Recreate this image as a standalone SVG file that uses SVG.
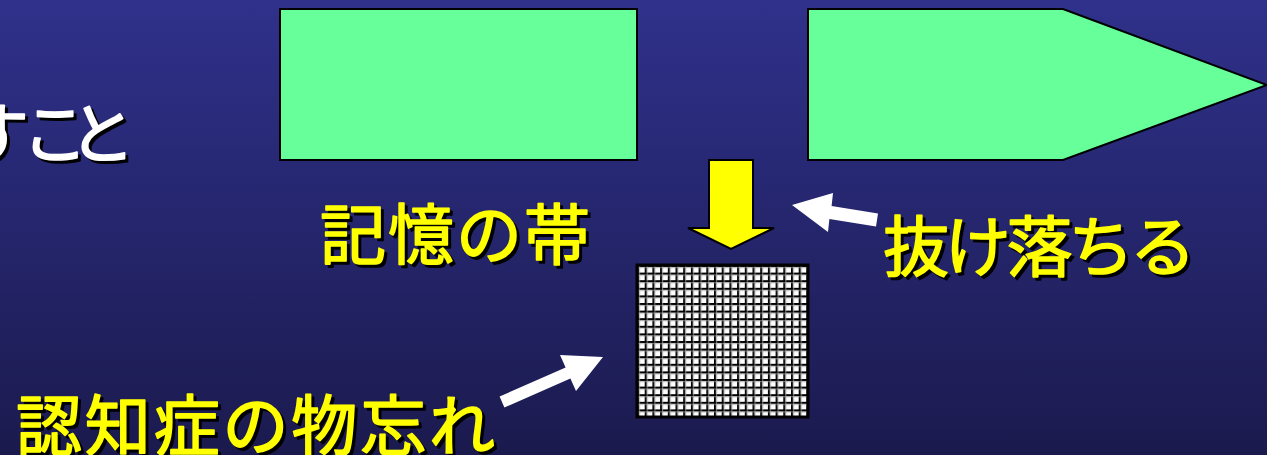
<svg xmlns="http://www.w3.org/2000/svg" width="1267" height="455" viewBox="0 0 1267 455">
<defs>
<linearGradient id="bg" x1="0" y1="0" x2="0" y2="1">
<stop offset="0" stop-color="#2f318b"/>
<stop offset="1" stop-color="#1b1a4e"/>
</linearGradient>
<pattern id="grid" patternUnits="userSpaceOnUse" x="637" y="265" width="7.7" height="7.6">
<rect width="7.7" height="7.6" fill="#ffffff"/>
<path d="M0.9 0V7.6M0 0.9H7.7" stroke="#000" stroke-width="1.8"/>
<path d="M2.6 0V7.6M0 2.6H7.7" stroke="#999" stroke-width="0.8"/>
</pattern>
<style>
.box{fill:#66ff99;stroke:#000;stroke-width:2}
.t{font-family:"Noto Sans CJK JP","Noto Sans CJK SC",sans-serif;font-size:66px;stroke-width:1.6;stroke-linejoin:round}
.sh{fill:#000;stroke:#000}
.y{fill:#ffff00;stroke:#ffff00}
.w{fill:#ffffff;stroke:#ffffff}
.wa{fill:#ffffff}
</style>
</defs>
<rect width="1267" height="455" fill="url(#bg)"/>
<g id="title-fragment">
<text class="t sh" x="-34 25 72" y="161">すこと</text>
<text class="t w" x="-37 22 69" y="158">すこと</text>
</g>
<g id="memory-band-box">
<rect class="box" x="280" y="9" width="357" height="151"/>
</g>
<g id="memory-band-arrow">
<polygon class="box" points="808,9 1063,9 1267,85 1063,160 808,160"/>
</g>
<g id="label-memory-band">
<text class="t sh" x="323" y="262" textLength="270" lengthAdjust="spacing">記憶の帯</text>
<text class="t y" x="320" y="259" textLength="270" lengthAdjust="spacing">記憶の帯</text>
</g>
<g id="label-drop-out">
<text class="t sh" x="886" y="274" textLength="313" lengthAdjust="spacing">抜け落ちる</text>
<text class="t y" x="883" y="271" textLength="313" lengthAdjust="spacing">抜け落ちる</text>
</g>
<g id="label-dementia">
<text class="t sh" x="19" y="453" textLength="479" lengthAdjust="spacing">認知症の物忘れ</text>
<text class="t y" x="16" y="450" textLength="479" lengthAdjust="spacing">認知症の物忘れ</text>
</g>
<g id="grid-block">
<rect x="637" y="265" width="171" height="152" fill="url(#grid)" stroke="#000" stroke-width="3"/>
</g>
<g id="connectors">
<polygon points="709,160 753,160 753,228 774,228 731,249 688,228 709,228" fill="#ffff00" stroke="#000" stroke-width="2"/>
<polygon class="wa" points="792,205 833,193 831.6,206.1 878,213.6 876,226.4 829.4,218.9 828,232"/>
<polygon class="wa" points="603,357 560,355 565.6,367.5 499.6,396.5 504.4,407.5 570.4,378.5 576,391"/>
</g>
</svg>
